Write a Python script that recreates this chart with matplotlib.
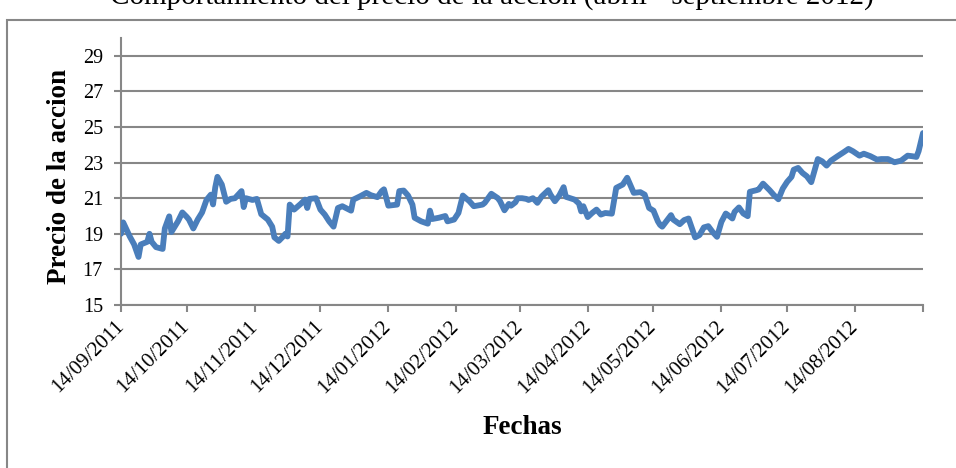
import matplotlib
matplotlib.use("Agg")
import matplotlib.pyplot as plt
from matplotlib.patches import Rectangle
import pandas as pd

# ---------------- data ----------------
fechas = [
    "2011-09-14", "2011-09-15", "2011-09-18", "2011-09-20", "2011-09-22", "2011-09-23",
    "2011-09-26", "2011-09-27", "2011-09-28", "2011-09-30", "2011-10-03", "2011-10-04",
    "2011-10-06", "2011-10-07", "2011-10-10", "2011-10-12", "2011-10-14", "2011-10-15",
    "2011-10-17", "2011-10-19", "2011-10-21", "2011-10-23", "2011-10-25", "2011-10-26",
    "2011-10-27", "2011-10-28", "2011-10-30", "2011-11-01", "2011-11-03", "2011-11-05",
    "2011-11-08", "2011-11-09", "2011-11-10", "2011-11-13", "2011-11-15", "2011-11-17",
    "2011-11-20", "2011-11-22", "2011-11-23", "2011-11-25", "2011-11-27", "2011-11-28",
    "2011-11-29", "2011-11-30", "2011-12-02", "2011-12-05", "2011-12-07", "2011-12-08",
    "2011-12-09", "2011-12-12", "2011-12-14", "2011-12-16", "2011-12-18", "2011-12-20",
    "2011-12-22", "2011-12-24", "2011-12-28", "2011-12-29", "2012-01-01", "2012-01-04",
    "2012-01-06", "2012-01-09", "2012-01-11", "2012-01-12", "2012-01-14", "2012-01-18",
    "2012-01-19", "2012-01-21", "2012-01-23", "2012-01-25", "2012-01-26", "2012-01-29",
    "2012-02-01", "2012-02-02", "2012-02-03", "2012-02-06", "2012-02-09", "2012-02-10",
    "2012-02-13", "2012-02-15", "2012-02-17", "2012-02-20", "2012-02-22", "2012-02-26",
    "2012-02-27", "2012-03-01", "2012-03-04", "2012-03-05", "2012-03-07", "2012-03-09",
    "2012-03-10", "2012-03-12", "2012-03-13", "2012-03-15", "2012-03-17", "2012-03-18",
    "2012-03-20", "2012-03-22", "2012-03-24", "2012-03-27", "2012-03-28", "2012-03-30",
    "2012-04-01", "2012-04-03", "2012-04-04", "2012-04-06", "2012-04-08", "2012-04-10",
    "2012-04-11", "2012-04-12", "2012-04-14", "2012-04-16", "2012-04-18", "2012-04-20",
    "2012-04-22", "2012-04-25", "2012-04-27", "2012-04-30", "2012-05-02", "2012-05-03",
    "2012-05-05", "2012-05-08", "2012-05-10", "2012-05-12", "2012-05-14", "2012-05-16",
    "2012-05-17", "2012-05-18", "2012-05-22", "2012-05-23", "2012-05-26", "2012-05-28",
    "2012-05-30", "2012-06-02", "2012-06-04", "2012-06-06", "2012-06-08", "2012-06-10",
    "2012-06-12", "2012-06-14", "2012-06-16", "2012-06-17", "2012-06-19", "2012-06-20",
    "2012-06-22", "2012-06-24", "2012-06-26", "2012-06-27", "2012-06-30", "2012-07-01",
    "2012-07-03", "2012-07-06", "2012-07-08", "2012-07-10", "2012-07-12", "2012-07-14",
    "2012-07-16", "2012-07-17", "2012-07-19", "2012-07-21", "2012-07-23", "2012-07-25",
    "2012-07-28", "2012-07-30", "2012-08-01", "2012-08-03", "2012-08-06", "2012-08-09",
    "2012-08-11", "2012-08-13", "2012-08-16", "2012-08-18", "2012-08-21", "2012-08-24",
    "2012-08-26", "2012-08-29", "2012-09-01", "2012-09-04", "2012-09-07", "2012-09-09",
    "2012-09-11", "2012-09-12", "2012-09-14",
]
precios = [
    19.0, 19.64, 18.85, 18.4, 17.7, 18.4,
    18.55, 19.0, 18.55, 18.25, 18.15, 19.3,
    19.98, 19.1, 19.7, 20.2, 19.95, 19.8,
    19.3, 19.8, 20.2, 20.9, 21.2, 20.65,
    21.6, 22.2, 21.77, 20.8, 20.96, 21.0,
    21.4, 20.5, 21.0, 20.9, 20.96, 20.1,
    19.8, 19.4, 18.8, 18.6, 18.85, 19.0,
    18.85, 20.64, 20.36, 20.68, 20.92, 20.45,
    20.96, 21.0, 20.36, 20.08, 19.7, 19.4,
    20.45, 20.55, 20.3, 20.92, 21.1, 21.3,
    21.17, 21.06, 21.4, 21.5, 20.58, 20.64,
    21.4, 21.43, 21.15, 20.64, 19.9, 19.7,
    19.57, 20.3, 19.83, 19.9, 20.0, 19.7,
    19.8, 20.17, 21.15, 20.83, 20.55, 20.64,
    20.74, 21.25, 21.0, 20.83, 20.32, 20.68,
    20.58, 20.77, 21.0, 21.0, 20.96, 20.9,
    21.0, 20.74, 21.1, 21.45, 21.2, 20.83,
    21.15, 21.62, 21.08, 21.0, 20.92, 20.7,
    20.26, 20.55, 19.94, 20.17, 20.36, 20.08,
    20.17, 20.13, 21.58, 21.77, 22.15, 21.87,
    21.3, 21.34, 21.2, 20.45, 20.3, 19.7,
    19.5, 19.4, 20.05, 19.8, 19.54, 19.77,
    19.86, 18.8, 18.93, 19.36, 19.43, 19.1,
    18.83, 19.67, 20.14, 20.05, 19.86, 20.23,
    20.48, 20.14, 19.99, 21.36, 21.45, 21.49,
    21.82, 21.45, 21.17, 20.94, 21.54, 21.92,
    22.2, 22.6, 22.7, 22.42, 22.23, 21.9,
    23.2, 23.07, 22.83, 23.11, 23.36, 23.6,
    23.77, 23.64, 23.39, 23.5, 23.36, 23.17,
    23.2, 23.2, 23.02, 23.11, 23.39, 23.36,
    23.32, 23.64, 24.66,
]
etiquetas_x = [
    "14/09/2011", "14/10/2011", "14/11/2011", "14/12/2011", "14/01/2012", "14/02/2012",
    "14/03/2012", "14/04/2012", "14/05/2012", "14/06/2012", "14/07/2012", "14/08/2012",
]
fecha_fin = "14/09/2012"
valores_y = [15, 17, 19, 21, 23, 25, 27, 29]
titulo = "Comportamiento del precio de la accion (abril - septiembre 2012)"
titulo_x = "Fechas"
titulo_y = "Precio de la accion"

# ---------------- figure ----------------
plt.rcParams["font.family"] = ["Liberation Serif", "DejaVu Serif"]
W, H = 956, 468
fig = plt.figure(figsize=(W / 100, H / 100), dpi=100)

GRAY = "#878787"
BLUE = "#4A7EBB"

# outer chart-area border (cut by the image edges on right/bottom)
fig.patches.append(Rectangle((7 / W, -0.05), 1.2, 1 - 20 / H + 0.05,
                             transform=fig.transFigure, fill=False,
                             edgecolor=GRAY, linewidth=1.5))

ax = fig.add_axes([121 / W, 1 - 305 / H, (923 - 121) / W, (305 - 38) / H])

x = pd.to_datetime(fechas)
ax.plot(x, precios, color=BLUE, linewidth=4.2, solid_joinstyle="round",
        solid_capstyle="round", zorder=3)

xt = pd.to_datetime(etiquetas_x + [fecha_fin], format="%d/%m/%Y")
ax.set_xlim(xt[0], xt[-1])
ax.set_xticks(xt)
ax.set_xticklabels(etiquetas_x + [""], rotation=45, ha="right",
                   va="center", rotation_mode="anchor", fontsize=15)
ax.set_ylim(15, 30)
ax.set_yticks(valores_y)
ax.set_yticklabels([str(v) for v in valores_y], fontsize=14.5)

ax.grid(axis="y", color=GRAY, linewidth=1.5, zorder=0)
ax.set_axisbelow(True)
for s in ["top", "right"]:
    ax.spines[s].set_visible(False)
for s in ["left", "bottom"]:
    ax.spines[s].set_color(GRAY)
    ax.spines[s].set_linewidth(1.5)
ax.tick_params(axis="both", color=GRAY, width=1.5, length=5, direction="out")
ax.tick_params(axis="y", pad=8)
ax.tick_params(axis="x", pad=8.5)

fig.text(522 / W, 1 - 428 / H, titulo_x, fontsize=19.5, fontweight="bold",
         ha="center", va="center")
fig.text(60 / W, 1 - 177 / H, titulo_y, fontsize=19.5, fontweight="bold",
         ha="center", va="center", rotation=90)
fig.text(492 / W, 1 - 4 / H, titulo, fontsize=21, ha="center", va="baseline")

fig.savefig("out.png", dpi=100)
